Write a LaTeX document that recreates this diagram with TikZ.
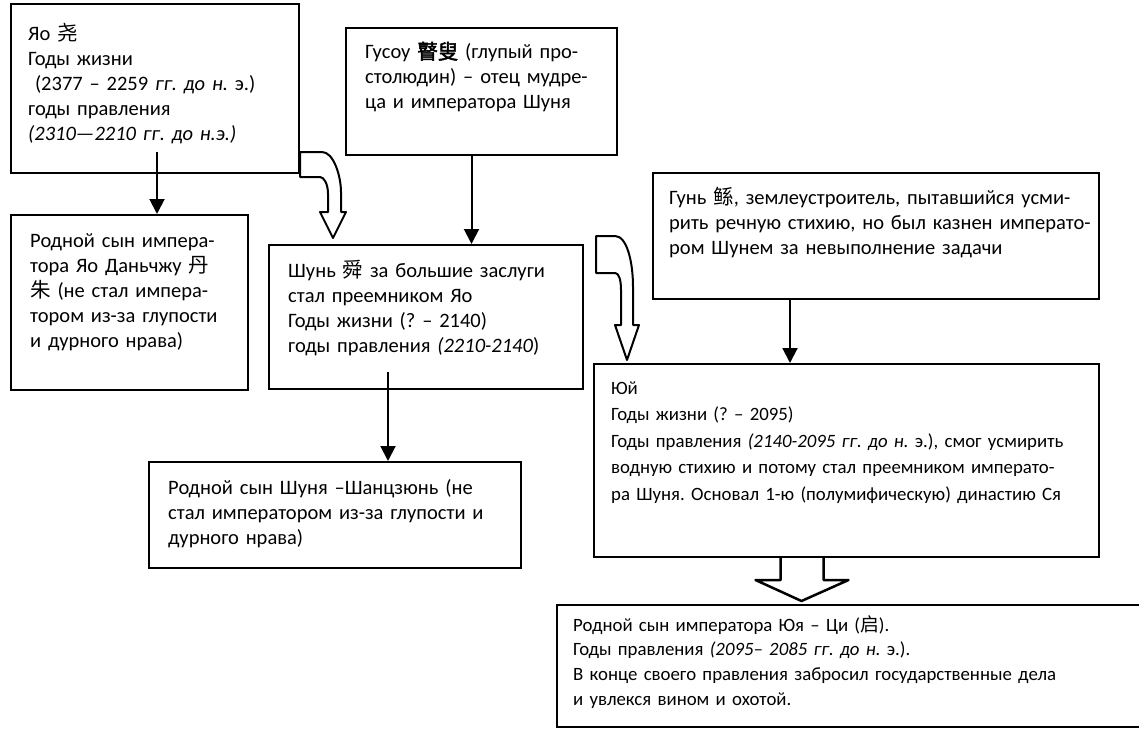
\documentclass[tikz,border=0pt]{standalone}
\usepackage{fontspec}
\setmainfont{Carlito}
\newfontfamily\cjk{Noto Sans CJK SC}
\newfontfamily\cjkbold[FakeBold=2.5]{Noto Sans CJK SC}
\usetikzlibrary{arrows.meta,calc}
\frenchspacing

\tikzset{
	box/.style={draw, line width=2pt, anchor=north west, inner sep=0pt},
	txt/.style={anchor=base west, inner sep=0pt, align=left, font=\fontsize{20.5}{25}\selectfont},
	smalltxt/.style={txt, font=\fontsize{18.8}{#1}\selectfont},
	arr/.style={line width=2pt, -{Triangle[length=15pt,width=15pt]}},
	blockarrow/.style={line width=2pt, line join=round},
}

\begin{document}
\begin{tikzpicture}[x=1pt,y=-1pt]
	\path[use as bounding box] (0,0) rectangle (1139,733);
	\clip (0,0) rectangle (1139,733);
	\node[box, minimum width=288pt, minimum height=169pt] (yao) at (10,3) {};
	\node[box, minimum width=271pt, minimum height=127pt] (gusou) at (345,27) {};
	\node[box, minimum width=237pt, minimum height=175pt] (yaoson) at (10,214) {};
	\node[box, minimum width=314pt, minimum height=144pt] (shun) at (268,244) {};
	\node[box, minimum width=446pt, minimum height=126pt] (gun) at (652,172) {};
	\node[box, minimum width=505pt, minimum height=193pt] (yu) at (593,363) {};
	\node[box, minimum width=372pt, minimum height=106pt] (shang) at (148,461) {};
	\node[box, minimum width=600pt, minimum height=122pt] (qi) at (556,604) {};

	\node[txt, text width=265pt] (yaotxt) at ([shift={(18,38)}]yao.north west) {Яо {\cjk 尧}\\Годы жизни\\\ (2377 – 2259 \textit{гг. до н.} э.)\\годы правления\\\textit{(2310—2210 гг. до н.э.)}};
	\node[txt, text width=250pt] (gusoutxt) at ([shift={(20,32)}]gusou.north west) {Гусоу {\cjkbold 瞽叟} (глупый про-\\столюдин) – отец мудре-\\ца и императора Шуня};
	\node[txt, text width=215pt] (yaosontxt) at ([shift={(20,33)}]yaoson.north west) {Родной сын импера-\\тора Яо Даньчжу {\cjk 丹}\\{\cjk 朱} (не стал импера-\\тором из-за глупости\\и дурного нрава)};
	\node[txt, text width=290pt] (shuntxt) at ([shift={(20,33)}]shun.north west) {Шунь {\cjk 舜} за большие заслуги\\стал преемником Яо\\Годы жизни (? – 2140)\\годы правления \textit{(2210-2140})};
	\node[txt, text width=425pt] (guntxt) at ([shift={(17,32)}]gun.north west) {Гунь {\cjk 鲧}, землеустроитель, пытавшийся усми-\\рить речную стихию, но был казнен императо-\\ром Шунем за невыполнение задачи};
	\node[smalltxt=26.5, text width=485pt] (yutxt) at ([shift={(18,31)}]yu.north west) {Юй\\Годы жизни (? – 2095)\\Годы правления \textit{(2140-2095 гг. до н.} э.), смог усмирить\\водную стихию и потому стал преемником императо-\\ра Шуня. Основал 1-ю (полумифическую) династию Ся};
	\node[txt, text width=334pt] (shangtxt) at ([shift={(20,33)}]shang.north west) {\makebox[334pt][s]{Родной сын Шуня –Шанцзюнь (не}\\\makebox[334pt][s]{стал императором из-за глупости и}\\дурного нрава)};
	\node[smalltxt=24.7, text width=540pt] (qitxt) at ([shift={(17,27)}]qi.north west) {Родной сын императора Юя – Ци ({\cjk 启}).\\Годы правления \textit{(2095– 2085 гг. до н.} э.).\\В конце своего правления забросил государственные дела\\и увлекся вином и охотой.};

	\coordinate (yaoout) at (157,152);
	\coordinate (shunout) at (388,372);
	\draw[arr] (yaoout) -- (yaoout |- yaoson.north);
	\draw[arr] ([xshift=-10pt]gusou.south) -- ([xshift=-10pt]gusou.south |- shun.north);
	\draw[arr] (shunout) -- (shunout |- shang.north);
	\draw[arr] ([xshift=-86pt]gun.south) -- ([xshift=-86pt]gun.south |- yu.north);

	\draw[blockarrow] ([yshift=22pt]yao.south east) -- ++(22,0) .. controls +(12,0) and +(0,-15) .. ++(19,40) -- ++(0,20) -- ++(5,0) -- ++(-13,26) -- ++(-13,-26) -- ++(8,0) -- ++(0,-18) .. controls +(0,-10) and +(4,0) .. ++(-8,-17) -- ++(-20,0) -- cycle;
	\draw[blockarrow] ([xshift=12pt,yshift=8pt]shun.north east) -- ++(19,0) .. controls +(12,0) and +(0,-25) .. ++(18,51) -- ++(0,38) -- ++(6,0) -- ++(-12,35) -- ++(-12,-35) -- ++(6,0) -- ++(0,-35) .. controls +(0,-10) and +(4,0) .. ++(-6,-17) -- ++(-19,0) -- cycle;
	\draw[blockarrow, line width=2.5pt] ([xshift=-66pt]yu.south) -- ++(0,22) -- ++(-25,0) -- ++(46,21) -- ++(47,-21) -- ++(-25,0) -- ++(0,-22);
\end{tikzpicture}
\end{document}
